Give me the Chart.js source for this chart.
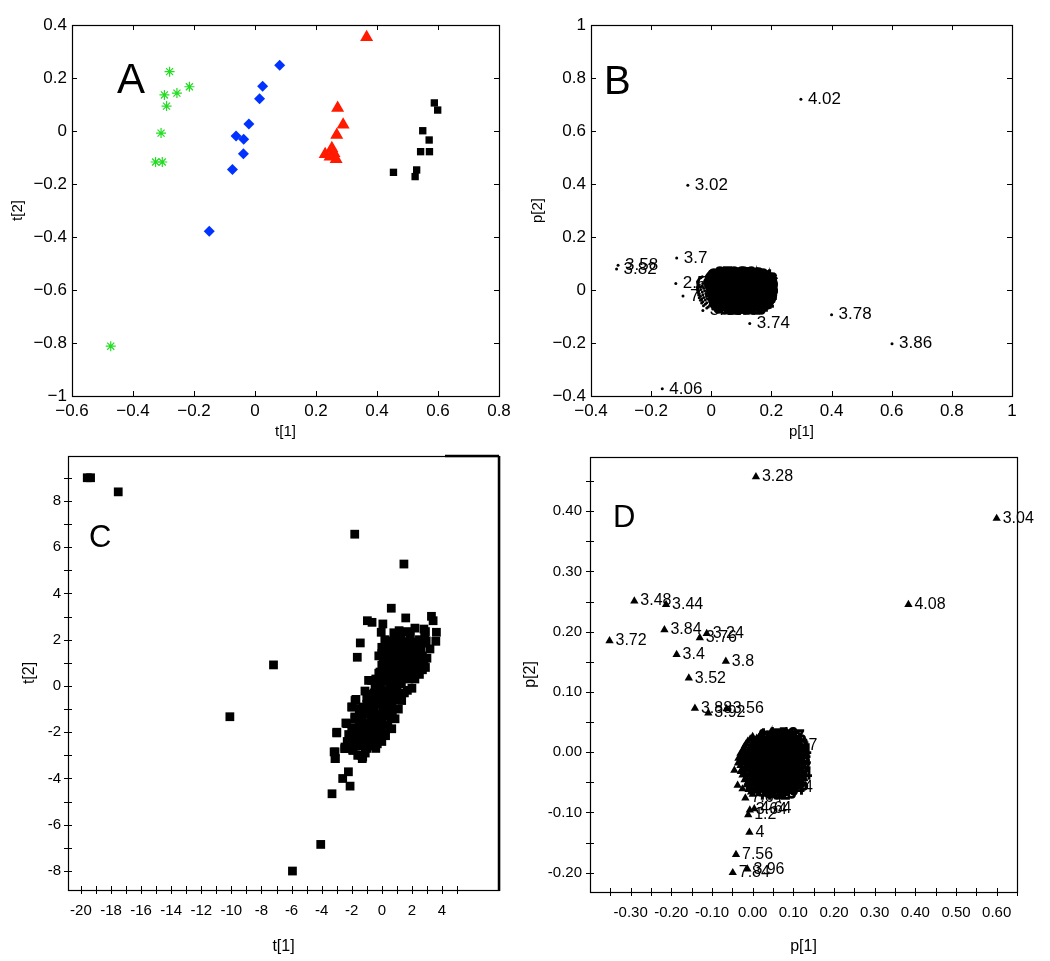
<!DOCTYPE html>
<html>
<head>
<meta charset="utf-8">
<script src="https://cdn.jsdelivr.net/npm/chart.js@4.4.0/dist/chart.umd.min.js"></script>
<style>
  body { margin: 0; background: #fff; width: 1050px; height: 961px; position: relative; overflow: hidden; }
  canvas { position: absolute; }
</style>
</head>
<body>
<canvas id="chartA" width="520" height="445" style="left:0;top:0;width:520px;height:445px"></canvas>
<canvas id="chartB" width="530" height="445" style="left:520px;top:0;width:530px;height:445px"></canvas>
<canvas id="chartC" width="520" height="521" style="left:0;top:440px;width:520px;height:521px"></canvas>
<canvas id="chartD" width="530" height="521" style="left:520px;top:440px;width:530px;height:521px"></canvas>
<script>
// ========================================
// PANEL A - scores, four groups
// ========================================
const aStarX = [-0.280, -0.215, -0.256, -0.297, -0.290, -0.308, -0.326, -0.304, -0.473];
const aStarY = [0.224, 0.167, 0.143, 0.136, 0.094, -0.008, -0.117, -0.117, -0.812];
const aDiamondX = [0.081, 0.025, 0.015, -0.020, -0.062, -0.037, -0.038, -0.074, -0.150];
const aDiamondY = [0.248, 0.169, 0.122, 0.026, -0.019, -0.031, -0.086, -0.145, -0.378];
const aTriX = [0.366, 0.271, 0.289, 0.268, 0.252, 0.230, 0.259, 0.266, 0.246];
const aTriY = [0.354, 0.087, 0.024, -0.015, -0.065, -0.088, -0.084, -0.107, -0.097];
const aSqX = [0.588, 0.599, 0.550, 0.571, 0.543, 0.572, 0.454, 0.530, 0.525];
const aSqY = [0.106, 0.079, 0.001, -0.034, -0.078, -0.078, -0.156, -0.147, -0.172];
const aXTicks = [-0.6, -0.4, -0.2, 0, 0.2, 0.4, 0.6, 0.8];
const aYTicks = [-1, -0.8, -0.6, -0.4, -0.2, 0, 0.2, 0.4];

// ========================================
// PANEL B - loadings with labels
// ========================================
const bX = [0.298, -0.078, -0.115, -0.310, -0.315, -0.118, -0.094, -0.028, 0.128, 0.400, 0.601, -0.163];
const bY = [0.720, 0.395, 0.121, 0.093, 0.079, 0.025, -0.023, -0.077, -0.126, -0.093, -0.203, -0.373];
const bLabels = ['4.02', '3.02', '3.7', '3.58', '3.82', '2.5', '7.6', '3.66', '3.74', '3.78', '3.86', '4.06'];
// dense cloud near the origin (reads as one black mass)
const bCloudX = [
  -0.010, 0.015, 0.040,
  -0.030, -0.002, 0.025, 0.052, 0.070,
  -0.040, -0.015, 0.010, 0.035, 0.060, 0.078,
  -0.045, -0.022, 0.002, 0.028, 0.050, 0.075, 0.085,
  -0.045, -0.028, -0.005, 0.020, 0.042, 0.066, 0.080, 0.086,
  -0.045, -0.030, -0.008, 0.015, 0.038, 0.060, 0.078, 0.084,
  -0.045, -0.025, -0.002, 0.022, 0.045, 0.068, 0.082, 0.088,
  -0.042, -0.022, 0.000, 0.025, 0.048, 0.072, 0.084,
  -0.040, -0.018, 0.005, 0.030, 0.052, 0.075, 0.086,
  -0.036, -0.015, 0.010, 0.034, 0.058, 0.076, 0.083,
  -0.032, -0.010, 0.014, 0.038, 0.062, 0.078,
  -0.028, -0.005, 0.020, 0.044, 0.066, 0.075,
  -0.020, 0.002, 0.026, 0.050, 0.068,
  -0.010, 0.012, 0.036, 0.055,
  0.005, 0.030, 0.048,
  0.002, 0.028, 0.055,
  -0.035, -0.008, 0.018, 0.045, 0.068,
  -0.042, -0.020, 0.005, 0.030, 0.055, 0.074, 0.086,
  -0.045, -0.015, 0.012, 0.038, 0.062, 0.080, 0.088,
  -0.040, -0.018, 0.008, 0.032, 0.055, 0.078, 0.085,
  -0.046, -0.038, -0.015, 0.010, 0.030, 0.052, 0.075, 0.086,
  -0.046, -0.035, -0.012, 0.012, 0.035, 0.058, 0.080, 0.088,
  -0.044, -0.030, -0.010, 0.015, 0.038, 0.062, 0.085,
  -0.042, -0.028, -0.005, 0.018, 0.042, 0.066, 0.084,
  -0.040, -0.025, 0.000, 0.022, 0.046, 0.070, 0.082,
  -0.036, -0.020, 0.005, 0.028, 0.050, 0.074,
  -0.032, -0.015, 0.010, 0.034, 0.058, 0.072,
  -0.026, -0.005, 0.018, 0.040, 0.060,
  -0.015, 0.018, 0.042];
const bCloudY = [
  0.058, 0.060, 0.056,
  0.050, 0.051, 0.048, 0.050, 0.047,
  0.042, 0.043, 0.040, 0.042, 0.041, 0.038,
  0.033, 0.034, 0.032, 0.035, 0.033, 0.031, 0.030,
  0.024, 0.025, 0.023, 0.026, 0.024, 0.022, 0.021, 0.019,
  0.015, 0.016, 0.014, 0.017, 0.015, 0.013, 0.012, 0.010,
  0.006, 0.007, 0.005, 0.008, 0.006, 0.004, 0.003, 0.001,
  -0.004, -0.003, -0.005, -0.002, -0.004, -0.006, -0.008,
  -0.014, -0.013, -0.015, -0.012, -0.014, -0.016, -0.018,
  -0.024, -0.023, -0.025, -0.022, -0.024, -0.026, -0.028,
  -0.034, -0.033, -0.035, -0.032, -0.034, -0.037,
  -0.044, -0.043, -0.045, -0.042, -0.044, -0.047,
  -0.054, -0.053, -0.055, -0.052, -0.055,
  -0.064, -0.063, -0.065, -0.062,
  -0.072, -0.071, -0.073,
  0.054, 0.055, 0.053,
  0.046, 0.047, 0.045, 0.046, 0.044,
  0.038, 0.039, 0.037, 0.038, 0.036, 0.037, 0.035,
  0.029, 0.030, 0.028, 0.029, 0.027, 0.028, 0.026,
  0.020, 0.021, 0.019, 0.020, 0.018, 0.019, 0.017,
  0.010, 0.011, 0.009, 0.010, 0.008, 0.009, 0.007, 0.006,
  0.001, 0.002, 0.000, 0.001, -0.001, 0.000, -0.002, -0.003,
  -0.009, -0.008, -0.010, -0.009, -0.011, -0.010, -0.012,
  -0.019, -0.018, -0.020, -0.019, -0.021, -0.020, -0.022,
  -0.029, -0.028, -0.030, -0.029, -0.031, -0.030, -0.032,
  -0.039, -0.038, -0.040, -0.039, -0.041, -0.042,
  -0.049, -0.048, -0.050, -0.049, -0.051, -0.052,
  -0.059, -0.058, -0.060, -0.059, -0.061,
  -0.068, -0.067, -0.069];
const bCloudLabels = [
  '3.38', '7.92', '3.58',
  '3.3', '7.86', '3.5', '1.9', '1.74',
  '3.62', '2.94', '3.66', '4.26', '1.22', '0.86',
  '3.26', '1.7', '3.34', '7.3', '4.3', '2.01', '0.74',
  '6.94', '2.86', '3.48', '4.06', '1.14', '2.32', '2.3', '0.81',
  '6.9', '2.9', '4.2', '1.1', '3.2', '5.3', '3.1', '1.06',
  '7.02', '3.56', '2.64', '4.36', '1.34', '0.94', '2.84', '1.66',
  '7.1', '3.6', '2.6', '1.3', '0.9', '2.8', '4.16',
  '7.14', '3.86', '2.46', '4.46', '1.56', '2.14', '2.66',
  '7.7', '3.9', '4.4', '1.5', '2.1', '4.1', '2.24',
  '7.76', '3.92', '2.76', '1.86', '1.48', '2.18',
  '6.8', '3.42', '2.2', '1.4', '2.4', '24.1',
  '6.86', '3.44', '2.22', '1.44', '2.48',
  '3.96', '4.0', '1.0', '2.52',
  '3.06', '1.02', '3.46',
  '7.88', '3.54', '7.58',
  '3.36', '7.84', '3.52', '1.92', '1.76',
  '3.64', '2.96', '3.68', '4.28', '1.24', '0.88', '2.06',
  '3.28', '1.72', '3.32', '7.32', '4.32', '2.02', '0.76',
  '6.96', '2.88', '3.46', '4.08', '1.16', '2.34', '2.36',
  '7.06', '6.92', '2.92', '4.22', '1.12', '3.22', '5.32', '3.12',
  '7.04', '3.58', '2.62', '4.38', '1.36', '0.96', '2.82', '1.68',
  '7.12', '3.62', '2.58', '1.32', '0.92', '2.78', '4.18',
  '7.16', '3.84', '2.44', '4.48', '1.58', '2.12', '2.68',
  '7.72', '3.94', '4.42', '1.52', '2.16', '4.12', '2.26',
  '7.78', '3.98', '2.74', '1.84', '1.46', '2.28',
  '6.82', '3.4', '2.28', '1.42', '2.42', '4.14',
  '6.84', '3.48', '2.24', '1.46', '2.5',
  '3.08', '1.04', '3.44'];
const bXTicks = [-0.4, -0.2, 0, 0.2, 0.4, 0.6, 0.8, 1];
const bYTicks = [-0.4, -0.2, 0, 0.2, 0.4, 0.6, 0.8, 1];

// ========================================
// PANEL C - scores, black squares + reference group
// ========================================
const cX = [-19.58, -19.36, -17.52, -1.80, 1.47, -7.20, -10.10, -4.06, -5.94, -3.31, -2.60, -2.11, -2.22, -3.17, -3.09,
  -2.47, -1.94, -2.99, -2.39, -1.30, -1.35,
  0.63, 1.59, 3.30, 3.41, -0.96, -0.65, 0.07, -0.04, 0.20, 1.15, 2.80, 2.85, 2.90, 3.63, 3.59, -1.43, -1.63, 0.00, 0.09,
  0.99, 1.83, 2.81, 2.60, 2.30, 2.00, 1.60, 1.30, 1.00, 0.80, 0.50, 1.20, 1.50, 1.90, 2.40, 2.70, 2.20, 1.70, 0.90, 0.60,
  1.10, 1.60, 2.10, 1.40, 0.30, -0.12, -0.88, -0.67, 0.50, 0.90, 1.30, 1.80, 2.00, 1.70, 1.32, 1.00, 0.60, 0.30, 0.80, 0.50,
  0.20, -0.20, -0.50, -1.12, -1.78, -2.00, -1.23, -1.72, -1.98, -1.80, -0.80, -0.30, 0.10, -0.50, -0.90, -1.30, 0.88, 0.40,
  0.00, -0.40, -0.80, -1.20, -1.78, -2.33, -3.00, 0.66, 0.20, -0.20, -0.60, -1.00, -1.40, -1.60, -0.56, -3.11, -2.45, -1.89,
  -3.11, -1.27, -1.00, -0.30, 0.40, 0.70, 1.00, 0.30, -0.10, 0.10, -0.30, -0.60, -1.00, 0.20, 0.50, 0.80, 1.30, 1.90, 2.20,
  -0.20, 0.30, 2.50, 2.90, 1.50, 1.10, 0.70, 0.00, -1.50, -0.70, 0.00, -1.50, -2.00, -1.10, -2.30,
  0.40, 0.70, 1.00, 1.40, 1.80, 2.20, 2.50, 0.60, 0.90, 1.20, 1.50, 1.80, 2.10, 2.40, 2.70, 3.00, 3.20, 0.50, 0.80, 1.20,
  1.60, 2.20, 0.00, 0.30, -0.40, 0.20, 0.60, 1.00, 1.30, -0.20, 0.30, 0.70, -0.60, -0.10, 0.30, 0.60, -1.00, -1.40,
  -0.30, 0.10, 0.40, -0.60, -1.00, -1.30, -0.90, -0.40, 0.00, -1.70, -1.90, -1.30, -0.80, -0.40, -1.60, -2.00, -1.10, -0.30,
  0.45, 0.75, 1.15, 1.45, 1.75, 2.05, 2.35, 2.65, 2.95, 0.55, 0.85, 1.15, 1.45, 1.75, 2.05, 2.35, 2.55, 0.25, 0.00, 1.25,
  1.65, 0.95, -0.20, 0.15, 0.45, 0.80, 1.15, -0.30, 0.05, 0.45, 0.80, -0.45, -0.75, -0.20, 0.15, 0.55, -0.95, -0.45,
  0.20, -1.20, -0.15, -0.50, -0.85, -1.05, -0.70, -0.25, 0.25, -1.50, -1.15, -0.60, -2.20, -1.75];
const cY = [9.00, 9.00, 8.39, 6.56, 5.27, 0.91, -1.33, -6.85, -8.00, -4.66, -4.00, -4.33, -3.71, -2.85, -3.14,
  -2.71, -2.78, -2.00, -1.60, -3.14, -3.00,
  3.36, 2.94, 3.01, 2.82, 2.82, 2.75, 2.68, 2.32, 2.00, 2.39, 2.46, 2.20, 2.35, 2.32, 1.93, 1.86, 1.24, 1.67, 1.24,
  1.96, 1.82, 1.03, 1.60, 1.40, 1.20, 1.50, 1.70, 1.40, 1.10, 1.00, 1.00, 1.20, 0.90, 0.90, 1.30, 1.70, 1.90, 0.80, 0.70,
  0.60, 0.70, 0.60, 0.40, 0.60, 0.60, 0.24, 0.24, 0.30, 0.20, 0.10, 0.30, -0.10, -0.19, -0.63, -0.30, -0.10, -0.30, -0.60, -0.80,
  -0.50, -0.40, -0.30, -0.22, -0.63, -0.91, -0.91, -0.58, -0.91, -1.34, -0.70, -0.80, -1.00, -1.10, -1.20, -1.40, -1.42, -1.30,
  -1.50, -1.60, -1.80, -1.90, -1.42, -1.63, -2.03, -1.85, -1.90, -2.10, -2.30, -2.40, -2.20, -2.50, -2.49, -2.85, -2.64, -2.78,
  -3.14, -3.07, -2.70, -1.80, -0.50, 0.40, 0.90, 0.20, 0.10, -0.20, -0.10, -0.60, -0.50, 0.90, 1.50, 2.30, 2.10, 2.20, 2.50,
  1.30, 1.30, 0.50, 0.80, -0.30, -1.00, -1.10, -0.70, -1.00, -1.50, -2.40, -1.70, -2.20, -2.90, -2.40,
  1.80, 1.60, 1.80, 1.90, 1.60, 1.90, 2.00, 1.30, 1.50, 1.30, 0.90, 1.20, 1.00, 1.20, 0.70, 1.20, 1.60, 0.60, 0.50, 0.30,
  0.50, 0.30, 0.90, 0.90, 0.30, 0.40, 0.10, -0.10, -0.40, -0.20, -0.60, -0.80, -0.90, -1.20, -1.00, -1.40, -0.80, -1.20,
  -1.40, -1.70, -1.70, -1.90, -1.60, -2.00, -2.10, -2.20, -2.00, -2.00, -2.40, -2.60, -2.60, -2.70, -3.00, -1.80, -1.20, -2.50,
  1.45, 1.95, 1.60, 1.45, 1.35, 1.55, 1.65, 1.85, 1.95, 1.15, 0.95, 0.80, 0.65, 0.95, 0.80, 0.65, 1.05, 1.15, 1.40, 2.25,
  2.35, 2.05, 0.55, 0.65, 0.45, 0.25, 0.15, 0.20, 0.20, -0.20, -0.40, -0.05, -0.35, -0.65, -0.80, -1.00, -1.05, -1.35,
  -1.30, -1.65, -1.70, -1.75, -1.60, -1.95, -2.15, -2.30, -2.15, -2.25, -2.40, -2.45, -2.10, -2.60];
const cRefX = [0.00, -0.15, 0.20, 0.15];
const cRefY = [-0.20, -0.05, -0.05, 0.15];
const cRefColors = ['#ff3030', '#18b0b0', '#f5d800', '#ff4fa8'];
const cXLabels = [-20, -18, -16, -14, -12, -10, -8, -6, -4, -2, 0, 2, 4];
const cXMarks = [-20, -19, -18, -17, -16, -15, -14, -13, -12, -11, -10, -9, -8, -7, -6, -5, -4, -3, -2, -1, 0, 1, 2, 3, 4, 5];
const cYLabels = [-8, -6, -4, -2, 0, 2, 4, 6, 8];
const cYMarks = [-8, -7, -6, -5, -4, -3, -2, -1, 0, 1, 2, 3, 4, 5, 6, 7, 8, 9];

// ========================================
// PANEL D - loadings with labels
// ========================================
const dX = [0.008, 0.600, -0.291, -0.213, 0.383, -0.217, -0.113, -0.130, -0.352, -0.187, -0.066, -0.157, -0.142, -0.064,
  -0.109, 0.020, -0.018, -0.007, 0.004, -0.011, -0.008, -0.041, -0.049, -0.013, 0.057, 0.068];
const dY = [0.457, 0.388, 0.251, 0.245, 0.245, 0.203, 0.197, 0.190, 0.185, 0.162, 0.151, 0.123, 0.073, 0.072,
  0.065, 0.030, -0.076, -0.096, -0.094, -0.104, -0.133, -0.170, -0.200, -0.194, -0.058, 0.011];
const dLabels = ['3.28', '3.04', '3.48', '3.44', '4.08', '3.84', '3.24', '3.76', '3.72', '3.4', '3.8', '3.52', '3.88', '3.56',
  '3.92', '4.48', '7.64', '3.64', '4.64', '1.2', '4', '7.56', '7.84', '3.96', '2.54', '1.27'];
// dense cloud near the origin
const dCloudX = [
  0.000, 0.018, 0.035,
  -0.012, 0.005, 0.022, 0.040,
  -0.020, -0.004, 0.012, 0.028, 0.045,
  -0.025, -0.010, 0.006, 0.022, 0.038, 0.052,
  -0.028, -0.012, 0.004, 0.020, 0.036, 0.050,
  -0.030, -0.015, 0.000, 0.016, 0.032, 0.048,
  -0.030, -0.014, 0.002, 0.018, 0.034, 0.050,
  -0.028, -0.012, 0.004, 0.020, 0.036, 0.052,
  -0.025, -0.010, 0.006, 0.022, 0.038, 0.054,
  -0.020, -0.005, 0.010, 0.026, 0.042,
  -0.015, 0.000, 0.015, 0.030, 0.045,
  -0.010, 0.005, 0.020, 0.035,
  0.000, 0.015,
  -0.045, -0.029, -0.037, -0.025,
  -0.006, 0.010, 0.028,
  -0.016, 0.000, 0.016, 0.032,
  -0.022, -0.008, 0.008, 0.024, 0.040,
  -0.030, -0.018, -0.002, 0.014, 0.030, 0.044,
  -0.035, -0.020, -0.005, 0.012, 0.028, 0.042,
  -0.036, -0.022, -0.008, 0.008, 0.024, 0.040,
  -0.020, -0.005, 0.010, 0.026, 0.042,
  -0.020, -0.004, 0.012, 0.028, 0.044,
  -0.016, 0.000, 0.016, 0.032, 0.046,
  -0.012, 0.004, 0.020, 0.036,
  -0.006, 0.010, 0.026,
  -0.004, 0.010];
const dCloudY = [
  0.026, 0.027, 0.024,
  0.018, 0.019, 0.017, 0.016,
  0.010, 0.011, 0.009, 0.010, 0.008,
  0.002, 0.003, 0.001, 0.002, 0.000, 0.001,
  -0.006, -0.005, -0.007, -0.006, -0.008, -0.006,
  -0.014, -0.013, -0.015, -0.014, -0.016, -0.013,
  -0.022, -0.021, -0.023, -0.022, -0.024, -0.021,
  -0.030, -0.029, -0.031, -0.030, -0.032, -0.029,
  -0.038, -0.037, -0.039, -0.038, -0.040, -0.037,
  -0.046, -0.045, -0.047, -0.046, -0.048,
  -0.054, -0.053, -0.055, -0.054, -0.056,
  -0.062, -0.061, -0.063, -0.062,
  -0.070, -0.069,
  -0.030, -0.032, -0.055, -0.061,
  0.022, 0.023, 0.021,
  0.014, 0.015, 0.013, 0.014,
  0.006, 0.007, 0.005, 0.006, 0.004,
  -0.002, -0.001, -0.003, -0.002, -0.004, -0.002,
  -0.010, -0.009, -0.011, -0.010, -0.012, -0.009,
  -0.018, -0.017, -0.019, -0.018, -0.020, -0.017,
  -0.026, -0.025, -0.027, -0.026, -0.028,
  -0.034, -0.033, -0.035, -0.034, -0.036,
  -0.042, -0.041, -0.043, -0.042, -0.044,
  -0.050, -0.049, -0.051, -0.050,
  -0.058, -0.057, -0.059,
  -0.066, -0.065];
const dCloudLabels = [
  '1.78', '4.58', '3.27',
  '4.12', '3.16', '2.08', '1.38',
  '3.2', '2.16', '4.34', '1.98', '4.38',
  '0.92', '3.08', '1.9', '2.58', '4.22', '1.54',
  '7.22', '2.02', '3.12', '1.7', '4.14', '2.44',
  '7.34', '2.62', '1.46', '4.24', '2.34', '2.86',
  '8.16', '3.68', '1.26', '2.36', '1.62', '3.32',
  '7.28', '4.16', '1.34', '3.36', '2.74', '2.27',
  '7.32', '3.18', '2.12', '4.28', '1.58', '2.94',
  '7.44', '3.22', '2.04', '4.18', '1.42',
  '7.36', '3.14', '2.18', '4.32', '1.86',
  '7.68', '3.34', '2.46', '4.44',
  '7.62', '3.58',
  '7.96', '7.42', '7.82', '7.7',
  '4.56', '3.26', '1.82',
  '4.1', '3.1', '2.06', '1.36',
  '3.22', '2.14', '4.36', '1.96', '4.4',
  '0.94', '3.06', '1.92', '2.56', '4.2', '1.52',
  '7.24', '2.04', '3.14', '1.72', '4.16', '2.42',
  '7.3', '2.6', '1.48', '4.26', '2.32', '2.88',
  '8.14', '3.7', '1.28', '2.38', '1.6', '3.3',
  '7.26', '4.18', '1.32', '3.38', '2.72',
  '7.38', '3.2', '2.1', '4.3', '1.56',
  '7.46', '3.24', '2.02', '4.2', '1.44',
  '7.4', '3.16', '2.2', '4.34',
  '7.66', '3.36', '2.48',
  '7.6', '3.6'];
const dXLabels = [-0.30, -0.20, -0.10, 0.00, 0.10, 0.20, 0.30, 0.40, 0.50, 0.60];
const dXMarks = [-0.35, -0.30, -0.25, -0.20, -0.15, -0.10, -0.05, 0.00, 0.05, 0.10, 0.15, 0.20, 0.25, 0.30, 0.35, 0.40,
  0.45, 0.50, 0.55, 0.60, 0.65];
const dYLabels = [-0.20, -0.10, 0.00, 0.10, 0.20, 0.30, 0.40];
const dYMarks = [-0.20, -0.15, -0.10, -0.05, 0.00, 0.05, 0.10, 0.15, 0.20, 0.25, 0.30, 0.35, 0.40, 0.45];

// ========================================
// HELPERS
// ========================================
Chart.defaults.font.family = '"Liberation Sans", Arial, Helvetica, sans-serif';
Chart.defaults.color = '#000';

function pts(xs, ys) {
    return xs.map((x, i) => ({ x: x, y: ys[i] }));
}

function matlabNum(v) {
    const r = Math.round(v * 10) / 10;
    if (r === 0) return '0';
    return String(r).replace('-', '\u2212');
}

function linAxis(o) {
    return {
        type: 'linear',
        min: o.min,
        max: o.max,
        grid: { display: false, drawTicks: false },
        border: { display: false },
        afterBuildTicks: function(s) { s.ticks = o.ticks.map(v => ({ value: v })); },
        afterFit: function(s) {
            if (o.width) s.width = o.width;
            if (o.height) s.height = o.height;
        },
        ticks: {
            autoSkip: false, maxRotation: 0, minRotation: 0,
            padding: o.pad, color: '#000',
            font: { size: o.size },
            callback: o.fmt
        },
        title: {
            display: true, text: o.title, color: '#000',
            font: { size: o.titleSize },
            padding: o.titlePad
        }
    };
}

// frame, tick marks, point labels, panel letter
function makeFrame(cfg) {
    return {
        id: 'frame',
        afterDatasetsDraw(chart) {
            const ctx = chart.ctx;
            const a = chart.chartArea;
            const xs = chart.scales.x, ys = chart.scales.y;
            ctx.save();

            // point labels
            chart.data.datasets.forEach((ds, i) => {
                if (!ds.dataLabels) return;
                const meta = chart.getDatasetMeta(i);
                ctx.font = cfg.labelFont;
                ctx.fillStyle = '#000';
                ctx.strokeStyle = '#000';
                ctx.lineWidth = ds.labelStroke || 0;
                ctx.textAlign = 'left';
                ctx.textBaseline = 'middle';
                meta.data.forEach((el, j) => {
                    ctx.fillText(ds.dataLabels[j], el.x + cfg.labelDx, el.y);
                    if (ds.labelStroke) ctx.strokeText(ds.dataLabels[j], el.x + cfg.labelDx, el.y);
                });
            });

            // tick marks
            ctx.strokeStyle = '#000';
            ctx.lineWidth = 1;
            ctx.beginPath();
            cfg.xMarks.forEach(v => {
                const p = Math.round(xs.getPixelForValue(v)) + 0.5;
                if (cfg.inside) {
                    ctx.moveTo(p, a.bottom); ctx.lineTo(p, a.bottom - cfg.len);
                    ctx.moveTo(p, a.top); ctx.lineTo(p, a.top + cfg.len);
                } else {
                    ctx.moveTo(p, a.bottom - cfg.len); ctx.lineTo(p, a.bottom + cfg.len);
                }
            });
            cfg.yMarks.forEach(v => {
                const p = Math.round(ys.getPixelForValue(v)) + 0.5;
                if (cfg.inside) {
                    ctx.moveTo(a.left, p); ctx.lineTo(a.left + cfg.len, p);
                    ctx.moveTo(a.right, p); ctx.lineTo(a.right - cfg.len, p);
                } else {
                    ctx.moveTo(a.left - cfg.len, p); ctx.lineTo(a.left + cfg.len, p);
                }
            });
            ctx.stroke();

            // box
            ctx.lineWidth = 1.2;
            ctx.strokeRect(Math.round(a.left) + 0.5, Math.round(a.top) + 0.5,
                Math.round(a.right - a.left), Math.round(a.bottom - a.top));
            if (cfg.heavyRight) {
                ctx.lineWidth = 2.5;
                ctx.beginPath();
                ctx.moveTo(a.right, a.top);
                ctx.lineTo(a.right, a.bottom + 1);
                ctx.moveTo(a.right - cfg.heavyRight, a.top);
                ctx.lineTo(a.right, a.top);
                ctx.stroke();
            }

            // panel letter
            ctx.font = cfg.letterFont;
            ctx.fillStyle = '#000';
            ctx.textAlign = 'left';
            ctx.textBaseline = 'alphabetic';
            ctx.fillText(cfg.letter, cfg.letterX, cfg.letterY);
            ctx.restore();
        }
    };
}

function baseOptions(pad) {
    return {
        responsive: false,
        animation: false,
        devicePixelRatio: 1,
        events: [],
        layout: { padding: pad },
        plugins: { legend: { display: false }, tooltip: { enabled: false } }
    };
}

// ========================================
// CHART A
// ========================================
const optA = baseOptions({ left: 0, top: 25, right: 21, bottom: 0 });
optA.scales = {
    x: linAxis({ min: -0.6, max: 0.8, ticks: aXTicks, fmt: matlabNum, height: 49, pad: 5, size: 17,
        title: 't[1]', titleSize: 15, titlePad: { top: 0, bottom: 4 } }),
    y: linAxis({ min: -1, max: 0.4, ticks: aYTicks, fmt: matlabNum, width: 72, pad: 5, size: 17,
        title: 't[2]', titleSize: 15, titlePad: { top: 9, bottom: 0 } })
};
new Chart(document.getElementById('chartA'), {
    type: 'scatter',
    data: {
        datasets: [
            { data: pts(aStarX, aStarY), pointStyle: 'star', pointRadius: 5, borderColor: '#22dd22', backgroundColor: '#22dd22', borderWidth: 1.2 },
            { data: pts(aDiamondX, aDiamondY), pointStyle: 'rectRot', pointRadius: 5.5, borderColor: '#0033ff', backgroundColor: '#0033ff', borderWidth: 0 },
            { data: pts(aTriX, aTriY), pointStyle: 'triangle', pointRadius: 7.5, borderColor: '#ff1a00', backgroundColor: '#ff1a00', borderWidth: 0 },
            { data: pts(aSqX, aSqY), pointStyle: 'rect', pointRadius: 5.2, borderColor: '#000', backgroundColor: '#000', borderWidth: 0 }
        ]
    },
    options: optA,
    plugins: [makeFrame({ inside: true, len: 5, xMarks: aXTicks, yMarks: aYTicks,
        letter: 'A', letterFont: '42px "Liberation Sans", Arial, sans-serif', letterX: 117, letterY: 93 })]
});

// ========================================
// CHART B
// ========================================
const optB = baseOptions({ left: 0, top: 25, right: 38, bottom: 0 });
optB.scales = {
    x: linAxis({ min: -0.4, max: 1, ticks: bXTicks, fmt: matlabNum, height: 49, pad: 5, size: 17,
        title: 'p[1]', titleSize: 15, titlePad: { top: 0, bottom: 4 } }),
    y: linAxis({ min: -0.4, max: 1, ticks: bYTicks, fmt: matlabNum, width: 71, pad: 5, size: 17,
        title: 'p[2]', titleSize: 15, titlePad: { top: 9, bottom: 0 } })
};
new Chart(document.getElementById('chartB'), {
    type: 'scatter',
    data: {
        datasets: [
            { data: pts(bCloudX, bCloudY), dataLabels: bCloudLabels, labelStroke: 1.6, pointStyle: 'circle', pointRadius: 1.5, backgroundColor: '#000', borderWidth: 0 },
            { data: pts(bX, bY), dataLabels: bLabels, pointStyle: 'circle', pointRadius: 1.5, backgroundColor: '#000', borderWidth: 0 }
        ]
    },
    options: optB,
    plugins: [makeFrame({ inside: true, len: 5, xMarks: bXTicks, yMarks: bYTicks,
        labelFont: '17px "Liberation Sans", Arial, sans-serif', labelDx: 7,
        letter: 'B', letterFont: '40px "Liberation Sans", Arial, sans-serif', letterX: 84, letterY: 94 })]
});

// ========================================
// CHART C
// ========================================
const optC = baseOptions({ left: 0, top: 15, right: 21, bottom: 0 });
optC.scales = {
    x: linAxis({ min: -20.86, max: 7.79, ticks: cXLabels, fmt: v => String(v), height: 71, pad: 12, size: 15,
        title: 't[1]', titleSize: 16, titlePad: { top: 0, bottom: 5 } }),
    y: linAxis({ min: -8.82, max: 9.94, ticks: cYLabels, fmt: v => String(v), width: 68, pad: 7, size: 15,
        title: 't[2]', titleSize: 16, titlePad: { top: 20, bottom: 0 } })
};
new Chart(document.getElementById('chartC'), {
    type: 'scatter',
    data: {
        datasets: [
            { data: pts(cX, cY), pointStyle: 'rect', pointRadius: 6.2, backgroundColor: '#000', borderWidth: 0 },
            { data: pts(cRefX.slice(0, 1), cRefY.slice(0, 1)), pointStyle: 'circle', pointRadius: 4.5, backgroundColor: cRefColors[0], borderWidth: 0 },
            { data: pts(cRefX.slice(1, 2), cRefY.slice(1, 2)), pointStyle: 'circle', pointRadius: 4.5, backgroundColor: cRefColors[1], borderWidth: 0 },
            { data: pts(cRefX.slice(2, 3), cRefY.slice(2, 3)), pointStyle: 'circle', pointRadius: 4.5, backgroundColor: cRefColors[2], borderWidth: 0 },
            { data: pts(cRefX.slice(3, 4), cRefY.slice(3, 4)), pointStyle: 'rectRot', pointRadius: 5.5, backgroundColor: cRefColors[3], borderWidth: 0 }
        ]
    },
    options: optC,
    plugins: [makeFrame({ inside: false, len: 4, xMarks: cXMarks, yMarks: cYMarks, heavyRight: 54,
        letter: 'C', letterFont: '31px "Liberation Sans", Arial, sans-serif', letterX: 89, letterY: 107 })]
});

// ========================================
// CHART D
// ========================================
const optD = baseOptions({ left: 0, top: 16, right: 33, bottom: 0 });
optD.scales = {
    x: linAxis({ min: -0.40, max: 0.65, ticks: dXLabels, fmt: v => v.toFixed(2), height: 69, pad: 12, size: 15,
        title: 'p[1]', titleSize: 16, titlePad: { top: 0, bottom: 5 } }),
    y: linAxis({ min: -0.232, max: 0.49, ticks: dYLabels, fmt: v => v.toFixed(2), width: 70, pad: 8, size: 15,
        title: 'p[2]', titleSize: 16, titlePad: { top: 1, bottom: 0 } })
};
new Chart(document.getElementById('chartD'), {
    type: 'scatter',
    data: {
        datasets: [
            { data: pts(dCloudX, dCloudY), dataLabels: dCloudLabels, labelStroke: 1.6, pointStyle: 'triangle', pointRadius: 4.8, backgroundColor: '#000', borderWidth: 0 },
            { data: pts(dX, dY), dataLabels: dLabels, pointStyle: 'triangle', pointRadius: 4.8, backgroundColor: '#000', borderWidth: 0 }
        ]
    },
    options: optD,
    plugins: [makeFrame({ inside: false, len: 4, xMarks: dXMarks, yMarks: dYMarks,
        labelFont: '16px "Liberation Sans", Arial, sans-serif', labelDx: 6,
        letter: 'D', letterFont: '31px "Liberation Sans", Arial, sans-serif', letterX: 93, letterY: 87 })]
});
</script>
</body>
</html>
